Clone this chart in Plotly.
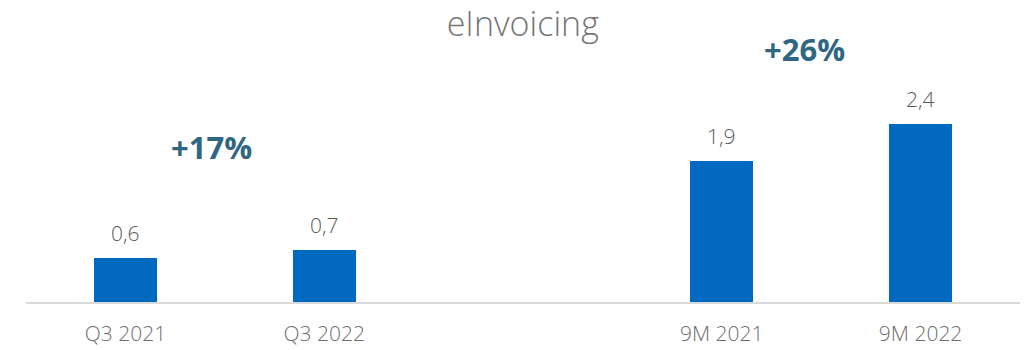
import plotly.graph_objects as go

# Data
categories = ["Q3 2021", "Q3 2022", " ", "9M 2021", "9M 2022"]
values = [0.6, 0.7, None, 1.9, 2.4]
value_labels = ["0,6", "0,7", "", "1,9", "2,4"]
growth_labels = ["+17%", "+26%"]
growth_x = [0.435, 3.415]
growth_y = [2.09, 3.42]

FONT = "Open Sans"
BAR_COLOR = "#0069C0"
GROWTH_COLOR = "#2F6682"

fig = go.Figure()
fig.add_trace(go.Bar(
    x=categories,
    y=values,
    marker=dict(color=BAR_COLOR, line=dict(width=0)),
    width=0.315,
    hoverinfo="skip",
))

annotations = []
for cat, val, lab in zip(categories, values, value_labels):
    if val is None:
        continue
    annotations.append(dict(
        x=cat, y=val, xref="x", yref="y", text=lab, showarrow=False,
        yanchor="bottom", yshift=9,
        font=dict(family=FONT, size=21, color="#595959", weight=300),
    ))
for gx, gy, gl in zip(growth_x, growth_y, growth_labels):
    annotations.append(dict(
        x=gx, y=gy, xref="x", yref="y", text=gl, showarrow=False,
        yanchor="middle",
        font=dict(family=FONT, size=31, color=GROWTH_COLOR, weight=700),
    ))

fig.update_layout(
    width=1025, height=350,
    margin=dict(l=26, r=5, t=30, b=48, autoexpand=False),
    paper_bgcolor="white", plot_bgcolor="white",
    showlegend=False,
    bargap=0,
    title=dict(
        text="eInvoicing", x=0.51, xanchor="center", y=0.93, yanchor="middle",
        font=dict(family=FONT, size=34, color="#767676", weight=300),
    ),
    xaxis=dict(
        type="category", categoryorder="array", categoryarray=categories,
        showline=True, linecolor="#D9D9D9", linewidth=2,
        showgrid=False, ticks="", zeroline=False, automargin=False,
        ticklabelstandoff=12,
        tickfont=dict(family=FONT, size=21, color="#6E6E6E", weight=300),
    ),
    yaxis=dict(
        range=[0, 3.676], visible=False, showgrid=False, zeroline=False,
        automargin=False,
    ),
    annotations=annotations,
)

fig.write_html("out.html")
